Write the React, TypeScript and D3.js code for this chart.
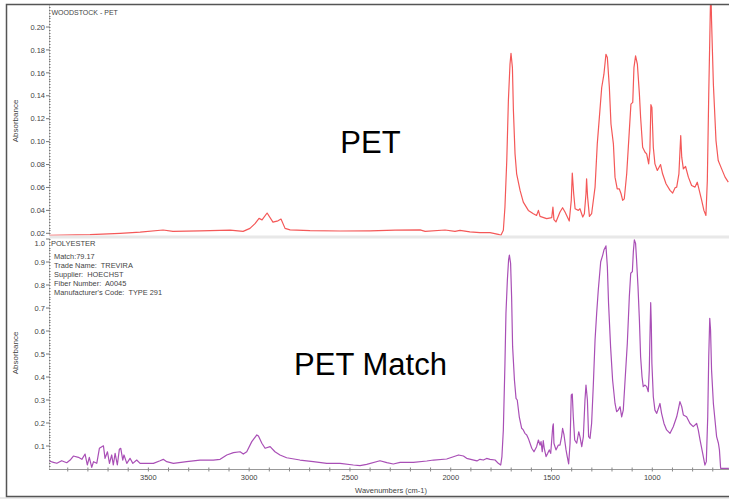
import React, { useRef, useEffect } from 'react';
import * as d3 from 'd3';

// sample spectrum (top) - wavenumber / absorbance
const petWn = [
  3993, 3988, 3789, 3640, 3541, 3427, 3378, 3244, 3094, 3030, 2996, 2971, 2951, 2936, 2911, 2882,
  2857, 2842, 2822, 2797, 2698, 2549, 2400, 2276, 2152, 2127, 2028, 1979, 1954, 1905, 1855, 1805,
  1764, 1751, 1739, 1731, 1722, 1714, 1706, 1701, 1694, 1689, 1681, 1673, 1656, 1640, 1615, 1590,
  1574, 1565, 1557, 1524, 1499, 1493, 1488, 1478, 1458, 1445, 1433, 1412, 1402, 1397, 1390, 1383,
  1367, 1359, 1345, 1337, 1329, 1326, 1321, 1312, 1301, 1284, 1273, 1260, 1251, 1240, 1230, 1223,
  1213, 1205, 1193, 1185, 1174, 1164, 1155, 1147, 1139, 1127, 1114, 1106, 1097, 1091, 1083, 1074,
  1064, 1058, 1048, 1036, 1028, 1018, 1012, 1007, 1002, 995, 987, 975, 959, 949, 932, 912,
  899, 887, 879, 868, 863, 859, 854, 846, 835, 821, 805, 788, 777, 767, 755, 744,
  734, 727, 720, 715, 712, 709, 706, 697, 684, 673, 656, 639, 623
];
const petAbs = [
  0.0183, 0.0183, 0.0189, 0.0200, 0.0211, 0.0229, 0.0217, 0.0222, 0.0228, 0.0217, 0.0243, 0.0284, 0.0330, 0.0317, 0.0377, 0.0298,
  0.0309, 0.0324, 0.0243, 0.0230, 0.0223, 0.0220, 0.0222, 0.0228, 0.0230, 0.0217, 0.0229, 0.0217, 0.0226, 0.0213, 0.0206, 0.0206,
  0.0191, 0.0183, 0.0226, 0.0429, 0.0835, 0.1356, 0.1675, 0.1771, 0.1646, 0.1270, 0.0893, 0.0719, 0.0574, 0.0472, 0.0400, 0.0371,
  0.0356, 0.0400, 0.0348, 0.0328, 0.0336, 0.0429, 0.0319, 0.0299, 0.0386, 0.0423, 0.0386, 0.0307, 0.0487, 0.0725, 0.0545, 0.0414,
  0.0400, 0.0414, 0.0342, 0.0371, 0.0545, 0.0675, 0.0516, 0.0348, 0.0371, 0.0603, 0.0980, 0.1270, 0.1472, 0.1588, 0.1762, 0.1733,
  0.1472, 0.1154, 0.0980, 0.0690, 0.0588, 0.0588, 0.0545, 0.0487, 0.0501, 0.0719, 0.1096, 0.1327, 0.1342, 0.1646, 0.1748, 0.1675,
  0.1414, 0.1212, 0.0951, 0.0907, 0.0893, 0.0806, 0.0922, 0.1322, 0.1299, 0.0951, 0.0806, 0.0748, 0.0800, 0.0719, 0.0632, 0.0574,
  0.0551, 0.0597, 0.0603, 0.0719, 0.0907, 0.1052, 0.0864, 0.0762, 0.0783, 0.0690, 0.0617, 0.0603, 0.0646, 0.0574, 0.0487, 0.0400,
  0.0356, 0.0661, 0.1414, 0.1878, 0.2168, 0.2300, 0.2052, 0.1501, 0.1009, 0.0835, 0.0762, 0.0690, 0.0646
];

// library match spectrum (bottom)
const matchWn = [
  3993, 3971, 3954, 3930, 3905, 3888, 3872, 3847, 3830, 3814, 3803, 3793, 3781, 3772, 3756, 3743,
  3731, 3723, 3715, 3703, 3693, 3682, 3674, 3665, 3654, 3644, 3637, 3627, 3621, 3607, 3591, 3577,
  3558, 3541, 3508, 3475, 3442, 3426, 3409, 3376, 3310, 3244, 3178, 3144, 3111, 3078, 3045, 3029,
  3012, 2987, 2962, 2954, 2937, 2921, 2896, 2872, 2847, 2814, 2748, 2682, 2615, 2549, 2483, 2450,
  2417, 2351, 2317, 2285, 2251, 2185, 2119, 2085, 2020, 1961, 1937, 1921, 1870, 1855, 1838, 1822,
  1805, 1780, 1764, 1752, 1746, 1739, 1731, 1726, 1719, 1713, 1709, 1703, 1698, 1693, 1684, 1676,
  1670, 1660, 1648, 1640, 1632, 1623, 1615, 1598, 1587, 1574, 1565, 1557, 1552, 1546, 1541, 1536,
  1527, 1519, 1511, 1504, 1494, 1491, 1488, 1478, 1466, 1458, 1450, 1445, 1438, 1428, 1422, 1415,
  1408, 1402, 1397, 1392, 1385, 1375, 1365, 1359, 1350, 1342, 1334, 1329, 1322, 1316, 1309, 1301,
  1293, 1284, 1276, 1268, 1256, 1246, 1240, 1230, 1223, 1217, 1207, 1197, 1185, 1177, 1169, 1160,
  1152, 1144, 1135, 1124, 1114, 1107, 1099, 1094, 1089, 1083, 1078, 1071, 1064, 1058, 1051, 1045,
  1036, 1028, 1020, 1015, 1012, 1008, 1005, 1002, 995, 987, 978, 962, 954, 942, 929, 912,
  896, 879, 868, 863, 854, 846, 830, 813, 797, 780, 772, 763, 750, 739, 732, 725,
  720, 715, 711, 706, 697, 689, 681, 672, 667, 661, 640, 620
];
const matchAbs = [
  0.0348, 0.0290, 0.0248, 0.0360, 0.0274, 0.0390, 0.0565, 0.0508, 0.0420, 0.0650, 0.0174, 0.0508, 0.0074, 0.0319, 0.0246, 0.0900,
  0.0970, 0.1010, 0.0464, 0.0750, 0.0246, 0.0610, 0.0174, 0.0680, 0.0174, 0.0855, 0.0900, 0.0390, 0.0610, 0.0246, 0.0464, 0.0246,
  0.0390, 0.0246, 0.0246, 0.0246, 0.0360, 0.0420, 0.0319, 0.0246, 0.0319, 0.0390, 0.0390, 0.0420, 0.0610, 0.0710, 0.0750, 0.0650,
  0.0750, 0.1190, 0.1480, 0.1430, 0.1120, 0.0900, 0.0970, 0.0750, 0.0610, 0.0490, 0.0390, 0.0320, 0.0246, 0.0246, 0.0174, 0.0145,
  0.0203, 0.0360, 0.0274, 0.0217, 0.0290, 0.0290, 0.0348, 0.0390, 0.0435, 0.0610, 0.0565, 0.0464, 0.0350, 0.0420, 0.0390, 0.0460,
  0.0420, 0.0390, 0.0246, 0.0174, 0.0540, 0.1696, 0.4590, 0.6770, 0.8220, 0.9090, 0.9300, 0.8940, 0.7490, 0.5320, 0.3870, 0.3070,
  0.3000, 0.2270, 0.1770, 0.1700, 0.1550, 0.1480, 0.1330, 0.0900, 0.0750, 0.0970, 0.1260, 0.1040, 0.1190, 0.0750, 0.1230, 0.0900,
  0.0540, 0.0680, 0.0830, 0.0680, 0.1840, 0.1960, 0.1120, 0.0830, 0.1040, 0.1040, 0.1410, 0.1770, 0.1480, 0.0830, 0.0540, 0.0220,
  0.1120, 0.3220, 0.3260, 0.2270, 0.1260, 0.1120, 0.1620, 0.1410, 0.0970, 0.1410, 0.3000, 0.3650, 0.3000, 0.1410, 0.1330, 0.1990,
  0.3580, 0.5610, 0.6770, 0.7780, 0.9010, 0.9300, 0.9520, 0.9700, 0.8800, 0.7200, 0.5320, 0.3870, 0.2850, 0.2490, 0.2560, 0.2710,
  0.2270, 0.2560, 0.3870, 0.5460, 0.7490, 0.8510, 0.8580, 0.9450, 0.9960, 0.9810, 0.9090, 0.7930, 0.6480, 0.4880, 0.4010, 0.3580,
  0.3650, 0.3580, 0.3360, 0.4300, 0.5610, 0.7230, 0.6330, 0.4590, 0.3140, 0.2560, 0.2420, 0.2850, 0.2420, 0.1980, 0.1700, 0.1550,
  0.1840, 0.2270, 0.2710, 0.2930, 0.2710, 0.2350, 0.2270, 0.1980, 0.1840, 0.1980, 0.1700, 0.1260, 0.0680, 0.0170, 0.0320, 0.2270,
  0.4880, 0.6550, 0.6040, 0.4300, 0.2850, 0.2130, 0.1410, 0.1120, 0.0830, 0.0030, 0.0030, 0.0030
];

const topTicks = [0.02, 0.04, 0.06, 0.08, 0.10, 0.12, 0.14, 0.16, 0.18, 0.20];
const bottomTicks = [0.1, 0.2, 0.3, 0.4, 0.5, 0.6, 0.7, 0.8, 0.9, 1.0];
const xTicks = [3500, 3000, 2500, 2000, 1500, 1000];
const matchInfo = [
  'Match:79.17',
  'Trade Name:  TREVIRA',
  'Supplier:  HOECHST',
  'Fiber Number:  A0045',
  "Manufacturer's Code:  TYPE 291"
];

const FONT = '"Liberation Sans", Arial, sans-serif';

const App: React.FC = () => {
  const svgRef = useRef<SVGSVGElement>(null);

  useEffect(() => {
    if (!svgRef.current) return;
    const svg = d3.select(svgRef.current);
    svg.selectAll('*').remove();

    const width = 729;
    const height = 499;
    const left = 49.5;
    const top = { y0: 5, y1: 235.5 };
    const bot = { y0: 238.5, y1: 469 };

    const x = d3.scaleLinear().domain([3993, 619.5]).range([49, 729]);
    const yTop = d3.scaleLinear().domain([0.02, 0.2]).range([233.3, 27]);
    const yBot = d3.scaleLinear().domain([0, 1]).range([469, 239]);

    svg.append('rect').attr('width', width).attr('height', height).attr('fill', '#fff');
    svg.append('rect').attr('x', 0).attr('y', 497).attr('width', width).attr('height', 2).attr('fill', '#e9e9e9');

    // panel divider strip
    svg.append('rect')
      .attr('x', left).attr('y', 235.5).attr('width', width - left).attr('height', 3)
      .attr('fill', '#e8e8e8');

    const defs = svg.append('defs');
    defs.append('clipPath').attr('id', 'clipTop')
      .append('rect').attr('x', left).attr('y', top.y0).attr('width', width - left).attr('height', top.y1 - top.y0);
    defs.append('clipPath').attr('id', 'clipBot')
      .append('rect').attr('x', left).attr('y', bot.y0).attr('width', width - left).attr('height', bot.y1 - bot.y0);

    // y axes
    const drawYAxis = (
      scale: d3.ScaleLinear<number, number>,
      ticks: number[],
      minor: number[],
      y0: number,
      y1: number,
      fmt: (v: number) => string,
      minLabelY: number
    ) => {
      const g = svg.append('g');
      g.append('line')
        .attr('x1', left).attr('x2', left).attr('y1', y0).attr('y2', y1)
        .attr('stroke', '#c8c8c8').attr('stroke-width', 1);
      g.selectAll('.minor')
        .data(minor.filter(v => scale(v) >= y0 && scale(v) <= y1))
        .enter().append('line')
        .attr('x1', left - 0.5).attr('x2', left + 1)
        .attr('y1', d => Math.round(scale(d)) + 0.5).attr('y2', d => Math.round(scale(d)) + 0.5)
        .attr('stroke', '#777').attr('stroke-width', 1);
      g.selectAll('.major')
        .data(ticks)
        .enter().append('line')
        .attr('x1', left - 3.5).attr('x2', left)
        .attr('y1', d => scale(d)).attr('y2', d => scale(d))
        .attr('stroke', '#777').attr('stroke-width', 1);
      g.selectAll('.lbl')
        .data(ticks)
        .enter().append('text')
        .attr('x', 45)
        .attr('y', d => Math.max(scale(d), minLabelY) + 2.7)
        .attr('text-anchor', 'end')
        .style('font-family', FONT).style('font-size', '7.5px').style('fill', '#444')
        .text(d => fmt(d));
    };

    drawYAxis(yTop, topTicks, d3.range(0.0175, 0.2201, 0.0025), top.y0, top.y1, d3.format('.2f'), 0);
    drawYAxis(yBot, bottomTicks, d3.range(0, 1.001, 0.0125), bot.y0, bot.y1, d3.format('.1f'), 243);

    // x axis (bottom panel)
    const xg = svg.append('g');
    xg.append('line')
      .attr('x1', left).attr('x2', width).attr('y1', 469.5).attr('y2', 469.5)
      .attr('stroke', '#999').attr('stroke-width', 1);
    xg.selectAll('.xminor')
      .data(d3.range(700, 4000, 100))
      .enter().append('line')
      .attr('x1', d => x(d)).attr('x2', d => x(d))
      .attr('y1', 467.5).attr('y2', 471.5)
      .attr('stroke', '#888').attr('stroke-width', 1);
    xg.selectAll('.xlbl')
      .data(xTicks)
      .enter().append('text')
      .attr('x', d => x(d)).attr('y', 479.8)
      .attr('text-anchor', 'middle')
      .style('font-family', FONT).style('font-size', '7.5px').style('fill', '#444')
      .text(d => String(d));
    xg.append('text')
      .attr('x', 391).attr('y', 492.7)
      .attr('text-anchor', 'middle')
      .style('font-family', FONT).style('font-size', '7.5px').style('fill', '#444')
      .text('Wavenumbers (cm-1)');

    // y axis titles
    [121, 353].forEach(cy => {
      svg.append('text')
        .attr('transform', `translate(17.5,${cy}) rotate(-90)`)
        .attr('text-anchor', 'middle')
        .style('font-family', FONT).style('font-size', '8px').style('fill', '#444')
        .text('Absorbance');
    });

    // spectra
    const petData = petWn.map((w, i) => [w, petAbs[i]] as [number, number]);
    const matchData = matchWn.map((w, i) => [w, matchAbs[i]] as [number, number]);

    const lineTop = d3.line<[number, number]>().x(d => x(d[0])).y(d => yTop(d[1]));
    const lineBot = d3.line<[number, number]>().x(d => x(d[0])).y(d => yBot(d[1]));

    svg.append('path')
      .datum(petData)
      .attr('clip-path', 'url(#clipTop)')
      .attr('fill', 'none')
      .attr('stroke', '#f45858')
      .attr('stroke-width', 1.2)
      .attr('stroke-linejoin', 'round')
      .attr('d', lineTop);

    svg.append('path')
      .datum(matchData)
      .attr('clip-path', 'url(#clipBot)')
      .attr('fill', 'none')
      .attr('stroke', '#a94fb6')
      .attr('stroke-width', 1.2)
      .attr('stroke-linejoin', 'round')
      .attr('d', lineBot);

    // panel captions
    svg.append('text')
      .attr('x', 51.5).attr('y', 15)
      .style('font-family', FONT).style('font-size', '7px').style('fill', '#444')
      .text('WOODSTOCK - PET');

    svg.append('text')
      .attr('x', 51).attr('y', 246)
      .style('font-family', FONT).style('font-size', '7.5px').style('fill', '#444')
      .text('POLYESTER');

    svg.selectAll('.info')
      .data(matchInfo)
      .enter().append('text')
      .attr('x', 54)
      .attr('y', (d, i) => 259.4 + i * 9)
      .style('font-family', FONT).style('font-size', '7.4px').style('fill', '#444')
      .style('white-space', 'pre')
      .text(d => d);

    // big labels
    svg.append('text')
      .attr('x', 370.5).attr('y', 153)
      .attr('text-anchor', 'middle')
      .style('font-family', FONT).style('font-size', '31px').style('fill', '#000')
      .text('PET');
    svg.append('text')
      .attr('x', 370.5).attr('y', 375)
      .attr('text-anchor', 'middle')
      .style('font-family', FONT).style('font-size', '31px').style('fill', '#000')
      .text('PET Match');

    // outer frame
    svg.append('rect')
      .attr('x', 6.5).attr('y', 4.5).attr('width', 740).attr('height', 492)
      .attr('fill', 'none').attr('stroke', '#555').attr('stroke-width', 1.5);
  }, []);

  return (
    <div style={{ position: 'absolute', left: 0, top: 0 }}>
      <svg ref={svgRef} width={729} height={499} style={{ display: 'block' }} viewBox="0 0 729 499" />
    </div>
  );
};

export default App;
